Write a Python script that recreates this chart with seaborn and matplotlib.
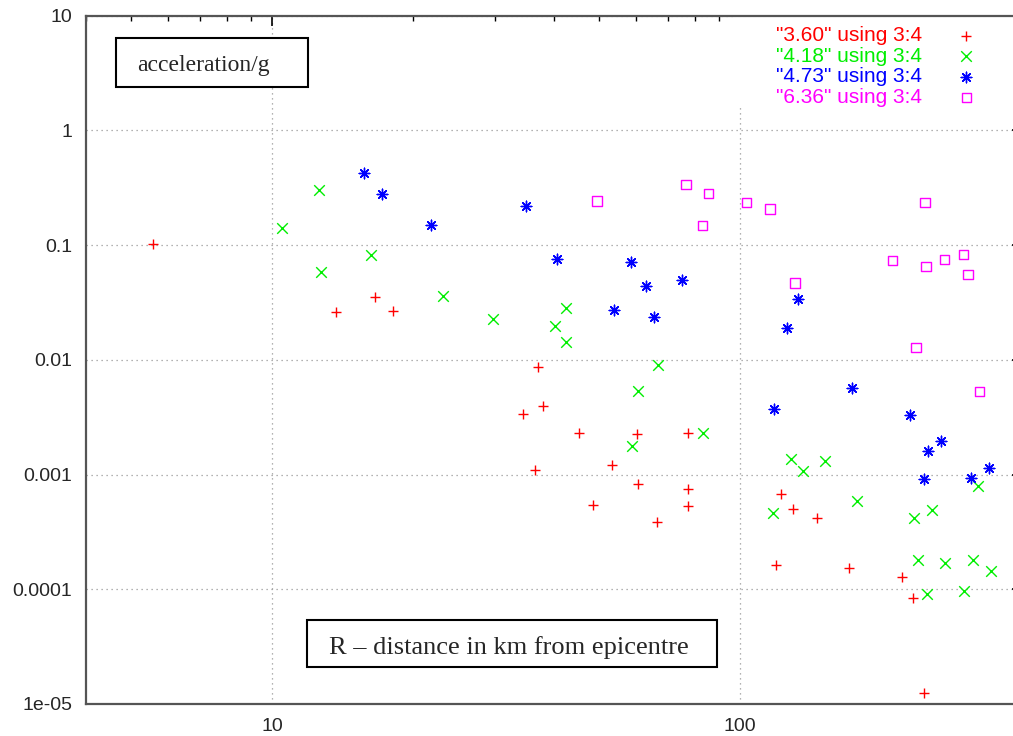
import numpy as np
import pandas as pd
import matplotlib
matplotlib.use('Agg')
import matplotlib.pyplot as plt
from matplotlib.patches import Rectangle
from matplotlib.ticker import LogLocator, NullFormatter
import seaborn as sns

# epicentral distance R (km) and peak acceleration (g)
r_360 = [5.57, 13.7, 16.6, 18.1, 37.0, 37.9, 34.3, 45.2, 60.1, 36.5, 53.3, 60.4, 48.4,
         66.5, 77.5, 77.2, 77.2, 122.4, 130.0, 145.9, 119.4, 171.0, 221.6, 233.8, 247.3]
a_360 = [0.103, 0.0261, 0.0351, 0.0266, 0.0086, 0.00394, 0.00337, 0.00231, 0.00227, 0.00109,
         0.00121, 0.000826, 0.000546, 0.000383, 0.00229, 0.000747, 0.000535, 0.000671,
         0.000498, 0.000415, 0.000163, 0.000153, 0.000129, 0.0000843, 0.0000124]

r_418 = [10.5, 12.6, 12.7, 16.3, 23.2, 29.7, 42.5, 40.3, 42.4, 66.7, 60.4, 58.8, 83.1, 128.3,
         136.1, 151.7, 177.4, 322.8, 117.5, 235.0, 256.8, 239.9, 273.4, 315.1, 343.6, 250.6, 301.3]
a_418 = [0.140, 0.304, 0.0579, 0.082, 0.036, 0.0226, 0.0281, 0.0197, 0.0142, 0.00895, 0.00531,
         0.00177, 0.00231, 0.00136, 0.00108, 0.00132, 0.000588, 0.000798, 0.000459, 0.000418,
         0.000493, 0.00018, 0.000168, 0.00018, 0.000143, 0.0000902, 0.000097]

r_473 = [15.7, 17.2, 21.9, 34.8, 40.7, 58.5, 62.8, 53.8, 65.3, 75.1, 132.8, 125.8, 173.3,
         118.4, 230.7, 268.5, 252.6, 246.5, 311.2, 339.4]
a_473 = [0.423, 0.279, 0.150, 0.219, 0.0752, 0.0708, 0.044, 0.0272, 0.0238, 0.0497, 0.0341,
         0.0191, 0.00571, 0.0037, 0.00332, 0.00196, 0.00159, 0.000908, 0.000927, 0.00113]

r_636 = [49.4, 76.6, 85.5, 83.1, 103.3, 115.9, 248.2, 131.1, 211.8, 249.4, 273.4, 300.0,
         306.6, 237.7, 324.6]
a_636 = [0.242, 0.339, 0.283, 0.148, 0.236, 0.207, 0.236, 0.0467, 0.0731, 0.0649, 0.0752,
         0.0832, 0.0556, 0.0128, 0.00527]

labels = ['"3.60" using 3:4', '"4.18" using 3:4', '"4.73" using 3:4', '"6.36" using 3:4']
colors = ['#ff0000', '#00ee00', '#0000ff', '#ff00ff']

yticks = [1e-5, 1e-4, 1e-3, 1e-2, 1e-1, 1, 10]
ytick_labels = ['1e-05', '0.0001', '0.001', '0.01', '0.1', '1', '10']
xticks = [10, 100]
xtick_labels = ['10', '100']

df = pd.concat([
    pd.DataFrame({'R': r_360, 'acc': a_360, 'set': labels[0]}),
    pd.DataFrame({'R': r_418, 'acc': a_418, 'set': labels[1]}),
    pd.DataFrame({'R': r_473, 'acc': a_473, 'set': labels[2]}),
    pd.DataFrame({'R': r_636, 'acc': a_636, 'set': labels[3]}),
])

sns.set_style('white')
plt.rcParams['font.family'] = ['Liberation Sans', 'DejaVu Sans']

W, H = 1013, 736
fig = plt.figure(figsize=(W / 100, H / 100), dpi=100)
# axes runs a little past the right edge, like the cropped original
ax = fig.add_axes([85.9 / W, (H - 704) / H, 936 / W, 688.3 / H])

markers = ['+', 'x', (8, 2, 0), 's']
for lab, col, m in zip(labels, colors, markers):
    sub = df[df['set'] == lab]
    if m == 's':
        sns.scatterplot(data=sub, x='R', y='acc', marker=m, s=46, facecolor='none',
                        edgecolor=col, linewidth=1.0, label=lab, ax=ax, zorder=3)
    else:
        sns.scatterplot(data=sub, x='R', y='acc', color=col, marker=m, s=58,
                        linewidth=1.0, label=lab, ax=ax, zorder=3)

ax.set_xscale('log')
ax.set_yscale('log')
ax.set_xlim(4, 400)
ax.set_ylim(1e-5, 10)
ax.set_xticks(xticks, xtick_labels)
ax.set_yticks(yticks, ytick_labels)
ax.xaxis.set_minor_locator(LogLocator(base=10, subs=np.arange(2, 10)))
ax.yaxis.set_minor_locator(LogLocator(base=10, subs=[2, 5, 8]))
ax.xaxis.set_minor_formatter(NullFormatter())
ax.yaxis.set_minor_formatter(NullFormatter())
ax.set_xlabel('')
ax.set_ylabel('')

ax.tick_params(which='both', direction='in', top=True, right=True, labelsize=14, pad=10,
               color='black')
ax.tick_params(which='major', length=7, width=1.2)
ax.tick_params(which='minor', length=3.5, width=1.0)
for sp in ax.spines.values():
    sp.set_color('#555555')
    sp.set_linewidth(1.6)

ax.set_axisbelow(True)
ax.grid(True, which='major', linestyle=(0, (1, 3)), color='#999999', linewidth=0.9)
# key area hides the grid, as gnuplot does
ax.add_patch(Rectangle((0.695, 0.866), 0.31, 0.134, transform=ax.transAxes,
                       facecolor='white', edgecolor='none', zorder=0.8))

ax.legend(loc='upper right', bbox_to_anchor=(0.963, 0.985), markerfirst=False, frameon=False,
          fontsize=15, labelcolor=colors, handlelength=2.0, handletextpad=1.15,
          labelspacing=0.08, borderpad=0, borderaxespad=0)

# framed annotations
fig.add_artist(Rectangle((116 / W, 1 - 87 / H), 192 / W, 49 / H, transform=fig.transFigure,
                         facecolor='white', edgecolor='black', linewidth=1.5, zorder=5))
fig.text(137 / W, 1 - 71.5 / H, 'acceleration/g', family='Liberation Serif', size=17,
         ha='left', va='baseline', zorder=6)
fig.add_artist(Rectangle((307 / W, 1 - 667 / H), 410 / W, 47 / H, transform=fig.transFigure,
                         facecolor='white', edgecolor='black', linewidth=1.5, zorder=5))
fig.text(329 / W, 1 - 654 / H, 'R \u2013 distance in km from epicentre',
         family='Liberation Serif', size=19, ha='left', va='baseline', zorder=6)

fig.savefig('out.png', dpi=100)
